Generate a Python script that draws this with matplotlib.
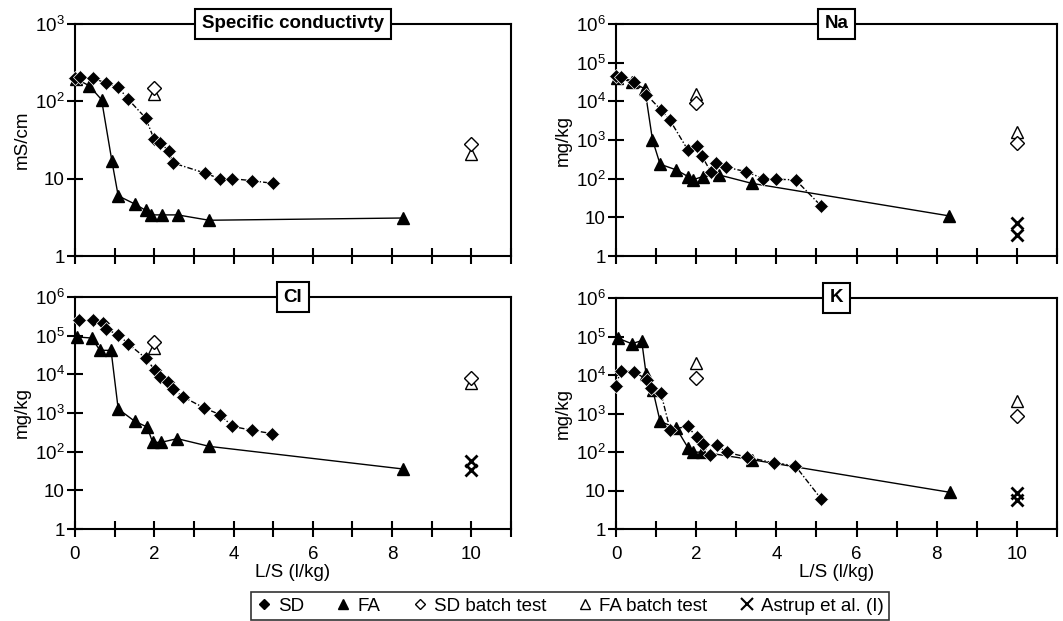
import math
import matplotlib
matplotlib.use("Agg")
import matplotlib.pyplot as plt
from matplotlib.lines import Line2D
from matplotlib.ticker import FixedLocator, NullLocator, FuncFormatter

plt.rcParams['font.family'] = ['Liberation Sans', 'DejaVu Sans']
plt.rcParams['mathtext.fontset'] = 'custom'
plt.rcParams['mathtext.rm'] = 'Liberation Sans'
plt.rcParams['mathtext.it'] = 'Liberation Sans'
plt.rcParams['mathtext.bf'] = 'Liberation Sans:bold'

# ---------------- data ----------------
# Specific conductivity (mS/cm)
cond_sd_x = [0.0, 0.13, 0.45, 0.78, 1.09, 1.33, 1.78, 1.99, 2.15, 2.36, 2.47, 3.28, 3.65, 3.97, 4.47, 4.99]
cond_sd_y = [200, 204, 200, 172, 153, 108, 61, 33, 28.8, 23, 16, 11.8, 10, 10, 9.4, 8.7]
cond_fa_x = [0.03, 0.36, 0.67, 0.93, 1.09, 1.51, 1.78, 1.93, 2.19, 2.59, 3.38, 8.28]
cond_fa_y = [195, 159, 105, 17, 6.0, 4.7, 3.9, 3.4, 3.4, 3.4, 2.9, 3.1]
cond_sdb_x = [2, 10]
cond_sdb_y = [147, 28]
cond_fab_x = [2, 10]
cond_fab_y = [125, 21]
cond_ast_x = []
cond_ast_y = []

# Na (mg/kg)
na_sd_x = [0.0, 0.12, 0.46, 0.76, 1.12, 1.35, 1.80, 2.03, 2.14, 2.36, 2.49, 2.74, 3.24, 3.67, 3.98, 4.48, 5.11]
na_sd_y = [44000, 43000, 31600, 14800, 6050, 3200, 536, 680, 390, 153, 252, 198, 153, 100, 97, 93, 20]
na_fa_x = [0.03, 0.40, 0.72, 0.91, 1.10, 1.50, 1.80, 1.91, 2.16, 2.57, 3.38, 8.31]
na_fa_y = [40000, 32000, 20800, 1010, 237, 169, 113, 93, 113, 125, 76, 10.9]
na_sdb_x = [2, 10]
na_sdb_y = [9000, 830]
na_fab_x = [2, 10]
na_fab_y = [15700, 1600]
na_ast_x = [10, 10]
na_ast_y = [7.1, 3.5]

# Cl (mg/kg)
cl_sd_x = [0.11, 0.46, 0.71, 0.78, 1.09, 1.34, 1.78, 2.02, 2.14, 2.34, 2.46, 2.73, 3.26, 3.66, 3.97, 4.47, 4.98]
cl_sd_y = [249000, 259000, 213000, 149000, 106000, 62000, 26400, 12700, 8400, 6300, 4200, 2600, 1350, 905, 452, 356, 292]
cl_fa_x = [0.04, 0.42, 0.63, 0.91, 1.09, 1.51, 1.82, 1.96, 2.17, 2.58, 3.39, 8.28]
cl_fa_y = [92500, 87000, 41700, 41700, 1270, 608, 434, 174, 174, 217, 137, 35.6]
cl_sdb_x = [2, 10]
cl_sdb_y = [67000, 8000]
cl_fab_x = [2, 10]
cl_fab_y = [48000, 5970]
cl_ast_x = [10, 10]
cl_ast_y = [58, 33]

# K (mg/kg)
k_sd_x = [0.0, 0.12, 0.46, 0.77, 0.87, 1.12, 1.35, 1.79, 2.01, 2.16, 2.35, 2.51, 2.76, 3.26, 3.95, 4.47, 5.12]
k_sd_y = [5300, 13000, 12000, 7570, 4600, 3400, 380, 464, 245, 165, 85, 149, 98, 74, 52, 44, 6.0]
k_fa_x = [0.04, 0.39, 0.64, 0.75, 0.92, 1.10, 1.50, 1.80, 1.93, 2.14, 3.39, 8.32]
k_fa_y = [91400, 65000, 78000, 10800, 4000, 626, 420, 127, 98, 100, 63, 9.0]
k_sdb_x = [2, 10]
k_sdb_y = [8350, 880]
k_fab_x = [2, 10]
k_fab_y = [20500, 2070]
k_ast_x = [10, 10]
k_ast_y = [8.5, 5.8]

panel_titles = ["Specific conductivty", "Na", "Cl", "K"]
panel_ylabels = ["mS/cm", "mg/kg", "mg/kg", "mg/kg"]
panel_ymax_exp = [3, 6, 6, 6]
x_tick_labels = ["0", "2", "4", "6", "8", "10"]
legend_labels = ["SD", "FA", "SD batch test", "FA batch test", "Astrup et al. (I)"]

panels = [
    (cond_sd_x, cond_sd_y, cond_fa_x, cond_fa_y, cond_sdb_x, cond_sdb_y, cond_fab_x, cond_fab_y, cond_ast_x, cond_ast_y),
    (na_sd_x, na_sd_y, na_fa_x, na_fa_y, na_sdb_x, na_sdb_y, na_fab_x, na_fab_y, na_ast_x, na_ast_y),
    (cl_sd_x, cl_sd_y, cl_fa_x, cl_fa_y, cl_sdb_x, cl_sdb_y, cl_fab_x, cl_fab_y, cl_ast_x, cl_ast_y),
    (k_sd_x, k_sd_y, k_fa_x, k_fa_y, k_sdb_x, k_sdb_y, k_fab_x, k_fab_y, k_ast_x, k_ast_y),
]

# ---------------- figure ----------------
W, H = 1063, 621
fig = plt.figure(figsize=(W / 100, H / 100), dpi=100)

def px_axes(l, r, t, b):
    return [l / W, 1 - b / H, (r - l) / W, (b - t) / H]

positions = [
    px_axes(75, 511, 24, 256),
    px_axes(616, 1057, 24, 256),
    px_axes(75, 511, 297, 529),
    px_axes(616, 1057, 298, 529),
]

FS = 13.5

def yfmt(v, pos):
    if v <= 1.01:
        return "1"
    if 9 < v < 11:
        return "10"
    n = int(round(math.log10(v)))
    return r"$\mathregular{10^{%d}}$" % n

SD_LS = (0, (4, 1.5, 1, 1.5))
MS_D = 7.5
MS_T = 9.0

for i, (pos, data) in enumerate(zip(positions, panels)):
    ax = fig.add_axes(pos)
    sdx, sdy, fax, fay, sdbx, sdby, fabx, faby, astx, asty = data
    ax.set_yscale('log')
    ax.set_xlim(0, 11)
    ax.set_ylim(1, 10 ** panel_ymax_exp[i])

    ax.plot(fax, fay, color='black', lw=1.0, ls='-', marker='^', ms=MS_T,
            mfc='black', mec='black', zorder=3, clip_on=False)
    ax.plot(sdx, sdy, color='black', lw=1.0, ls=SD_LS, marker='D', ms=MS_D,
            mfc='black', mec='white', mew=0.5, zorder=4, clip_on=False)
    ax.plot(fabx, faby, ls='none', marker='^', ms=MS_T, mfc='white', mec='black', mew=1.0, zorder=5)
    ax.plot(sdbx, sdby, ls='none', marker='D', ms=MS_D, mfc='white', mec='black', mew=1.0, zorder=5)
    if len(astx):
        ax.plot(astx, asty, ls='none', marker='x', ms=9, mec='black', mew=2.0, zorder=5)

    for s in ax.spines.values():
        s.set_linewidth(1.5)
        s.set_color('black')

    ax.xaxis.set_major_locator(FixedLocator(list(range(0, 12))))
    ax.yaxis.set_major_locator(FixedLocator([10 ** k for k in range(0, panel_ymax_exp[i] + 1)]))
    ax.yaxis.set_minor_locator(NullLocator())
    ax.xaxis.set_minor_locator(NullLocator())
    ax.yaxis.set_major_formatter(FuncFormatter(yfmt))
    ax.tick_params(axis='both', direction='inout', length=11, width=1.5, labelsize=FS,
                   top=False, right=False)
    ax.tick_params(axis='y', pad=2)
    ax.tick_params(axis='x', pad=6.5)
    if i >= 2:
        lbls = []
        for k in range(0, 12):
            lbls.append(x_tick_labels[k // 2] if k % 2 == 0 else "")
        ax.set_xticklabels(lbls)
        ax.set_xlabel("L/S (l/kg)", fontsize=FS, labelpad=1)
    else:
        ax.set_xticklabels([])

    ax.set_ylabel(panel_ylabels[i], fontsize=FS, labelpad=3)

    ax.text(0.5, 1.0, panel_titles[i], transform=ax.transAxes, ha='center', va='center',
            fontsize=FS, fontweight='bold', zorder=10,
            bbox=dict(boxstyle='square,pad=0.35', fc='white', ec='black', lw=1.5))

handles = [
    Line2D([], [], ls='none', marker='D', ms=5.5, mfc='black', mec='black'),
    Line2D([], [], ls='none', marker='^', ms=7.5, mfc='black', mec='black'),
    Line2D([], [], ls='none', marker='D', ms=5.5, mfc='white', mec='black', mew=1.0),
    Line2D([], [], ls='none', marker='^', ms=7.5, mfc='white', mec='black', mew=1.0),
    Line2D([], [], ls='none', marker='x', ms=8, mec='black', mew=1.5),
]
leg = fig.legend(handles, legend_labels, loc='upper center', bbox_to_anchor=(570 / W, 1 - 592 / H),
                 ncol=5, fontsize=FS, frameon=True, fancybox=False, edgecolor='black',
                 handlelength=0.8, handletextpad=0.35, columnspacing=1.7, borderpad=0.3,
                 borderaxespad=0)
leg.get_frame().set_linewidth(1.2)

fig.savefig("out.png", dpi=100)
